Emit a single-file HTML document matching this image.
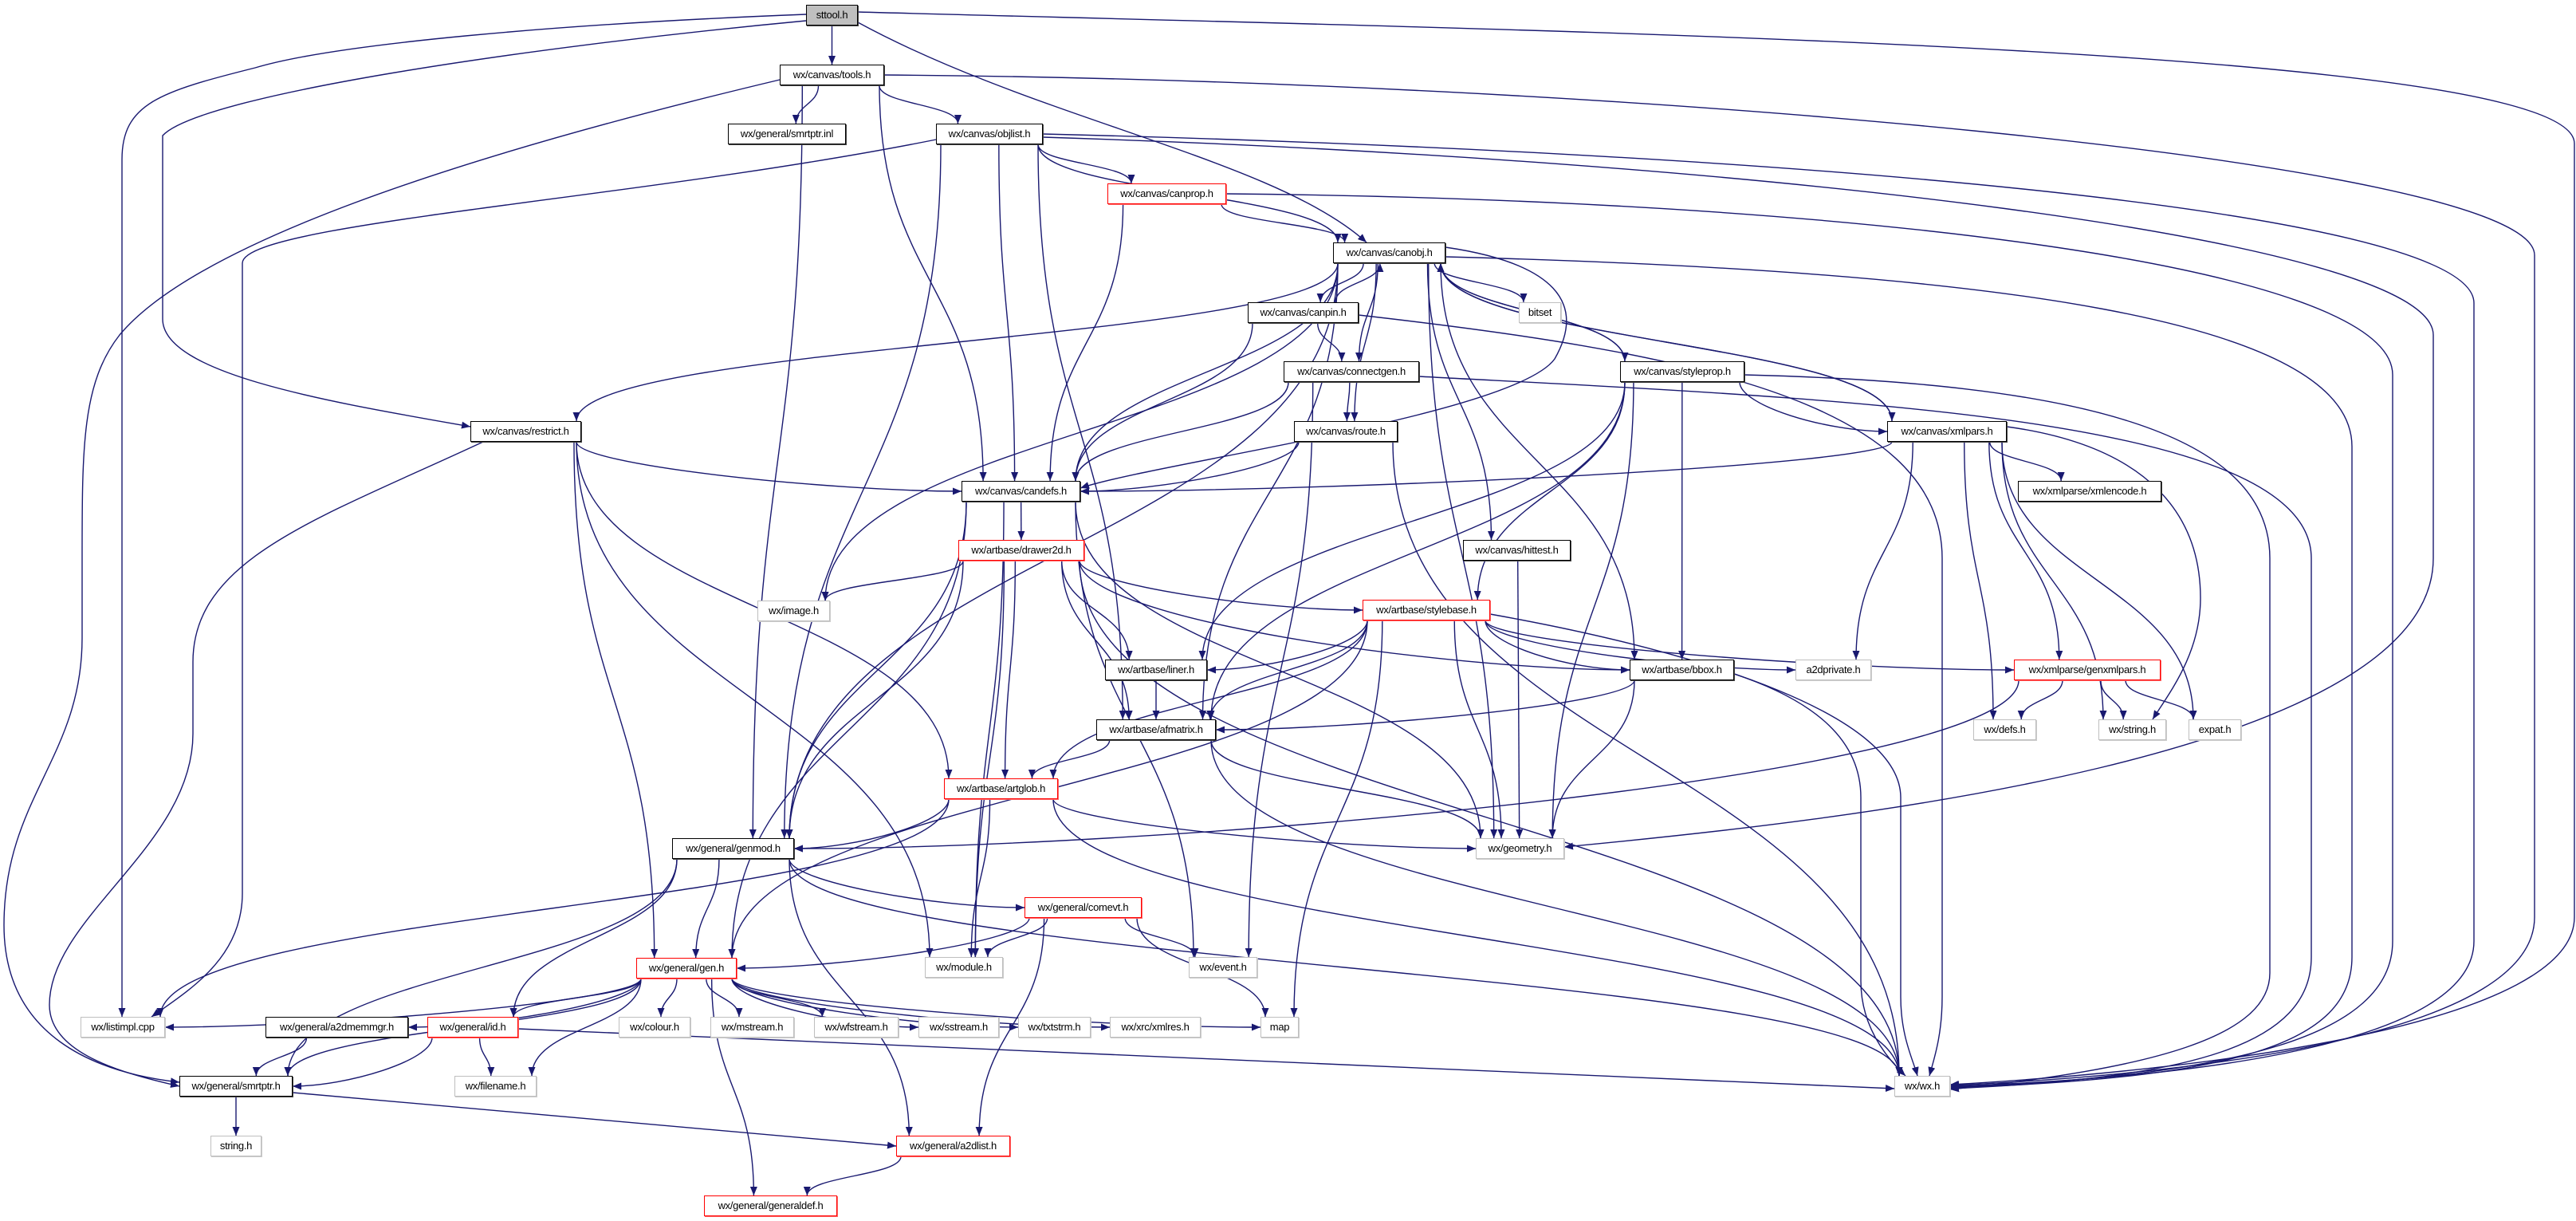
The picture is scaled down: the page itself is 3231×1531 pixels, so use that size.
<!DOCTYPE html>
<html><head><meta charset="utf-8">
<style>
html,body{margin:0;padding:0;background:#fff;}
#wrap{position:relative;width:3231px;height:1531px;overflow:hidden;background:#fff;}
svg{position:absolute;left:0;top:0;}
.n{position:absolute;height:26px;box-sizing:border-box;border:1px solid #000;box-shadow:1px 1px 0 #444;background:#fff;font-family:"Liberation Sans",Arial,sans-serif;font-size:13px;line-height:24px;text-align:center;white-space:nowrap;color:#000;z-index:2;letter-spacing:-0.3px;}
.g{border-color:#bfbfbf;box-shadow:1px 1px 0 #ccc;}
.r{border-color:#ff0000;box-shadow:1px 1px 0 #f66;}
.s{background:#bfbfbf;}
</style></head><body><div id="wrap">
<svg id="sv" width="3231" height="1531" xmlns="http://www.w3.org/2000/svg">
<defs><marker id="ah" markerWidth="11" markerHeight="9" refX="11" refY="4.5" orient="auto" markerUnits="userSpaceOnUse"><path d="M0,0 L11,4.5 L0,9 z" fill="#191970"/></marker></defs>
<g id="eg" fill="none" stroke="#191970" stroke-width="1.4"></g>
</svg>
<div class="n s" id="sttool" style="left:1011px;top:6px;width:65px">sttool.h</div>
<div class="n" id="tools" style="left:978px;top:81px;width:131px">wx/canvas/tools.h</div>
<div class="n" id="sinl" style="left:913px;top:155px;width:148px">wx/general/smrtptr.inl</div>
<div class="n" id="objlist" style="left:1174px;top:155px;width:134px">wx/canvas/objlist.h</div>
<div class="n r" id="canprop" style="left:1389px;top:230px;width:149px">wx/canvas/canprop.h</div>
<div class="n" id="canobj" style="left:1672px;top:304px;width:141px">wx/canvas/canobj.h</div>
<div class="n" id="canpin" style="left:1565px;top:379px;width:139px">wx/canvas/canpin.h</div>
<div class="n g" id="bitset" style="left:1905px;top:379px;width:53px">bitset</div>
<div class="n" id="connectgen" style="left:1610px;top:453px;width:170px">wx/canvas/connectgen.h</div>
<div class="n" id="styleprop" style="left:2032px;top:453px;width:156px">wx/canvas/styleprop.h</div>
<div class="n" id="restrict" style="left:590px;top:528px;width:139px">wx/canvas/restrict.h</div>
<div class="n" id="route" style="left:1623px;top:528px;width:130px">wx/canvas/route.h</div>
<div class="n" id="xmlpars" style="left:2367px;top:528px;width:150px">wx/canvas/xmlpars.h</div>
<div class="n" id="candefs" style="left:1206px;top:603px;width:149px">wx/canvas/candefs.h</div>
<div class="n" id="xmlencode" style="left:2531px;top:603px;width:180px">wx/xmlparse/xmlencode.h</div>
<div class="n r" id="drawer2d" style="left:1202px;top:677px;width:158px">wx/artbase/drawer2d.h</div>
<div class="n" id="hittest" style="left:1835px;top:677px;width:135px">wx/canvas/hittest.h</div>
<div class="n g" id="image" style="left:950px;top:753px;width:91px">wx/image.h</div>
<div class="n r" id="stylebase" style="left:1709px;top:752px;width:160px">wx/artbase/stylebase.h</div>
<div class="n" id="liner" style="left:1386px;top:827px;width:128px">wx/artbase/liner.h</div>
<div class="n" id="bbox" style="left:2044px;top:827px;width:131px">wx/artbase/bbox.h</div>
<div class="n g" id="a2dprivate" style="left:2252px;top:827px;width:95px">a2dprivate.h</div>
<div class="n r" id="genxmlpars" style="left:2526px;top:827px;width:184px">wx/xmlparse/genxmlpars.h</div>
<div class="n" id="afmatrix" style="left:1375px;top:902px;width:150px">wx/artbase/afmatrix.h</div>
<div class="n g" id="defs" style="left:2475px;top:902px;width:79px">wx/defs.h</div>
<div class="n g" id="wxstring" style="left:2632px;top:902px;width:85px">wx/string.h</div>
<div class="n g" id="expat" style="left:2745px;top:902px;width:66px">expat.h</div>
<div class="n r" id="artglob" style="left:1184px;top:976px;width:143px">wx/artbase/artglob.h</div>
<div class="n" id="genmod" style="left:843px;top:1051px;width:153px">wx/general/genmod.h</div>
<div class="n g" id="geometry" style="left:1851px;top:1051px;width:111px">wx/geometry.h</div>
<div class="n r" id="comevt" style="left:1285px;top:1125px;width:147px">wx/general/comevt.h</div>
<div class="n r" id="gen" style="left:798px;top:1201px;width:126px">wx/general/gen.h</div>
<div class="n g" id="module" style="left:1160px;top:1200px;width:98px">wx/module.h</div>
<div class="n g" id="event" style="left:1491px;top:1200px;width:86px">wx/event.h</div>
<div class="n g" id="listimpl" style="left:101px;top:1275px;width:106px">wx/listimpl.cpp</div>
<div class="n" id="a2dmemmgr" style="left:333px;top:1275px;width:179px">wx/general/a2dmemmgr.h</div>
<div class="n r" id="id" style="left:536px;top:1275px;width:114px">wx/general/id.h</div>
<div class="n g" id="colour" style="left:776px;top:1275px;width:90px">wx/colour.h</div>
<div class="n g" id="mstream" style="left:891px;top:1275px;width:105px">wx/mstream.h</div>
<div class="n g" id="wfstream" style="left:1021px;top:1275px;width:106px">wx/wfstream.h</div>
<div class="n g" id="sstream" style="left:1152px;top:1275px;width:101px">wx/sstream.h</div>
<div class="n g" id="txtstrm" style="left:1277px;top:1275px;width:91px">wx/txtstrm.h</div>
<div class="n g" id="xmlres" style="left:1392px;top:1275px;width:114px">wx/xrc/xmlres.h</div>
<div class="n g" id="map" style="left:1581px;top:1275px;width:48px">map</div>
<div class="n" id="smrtptr" style="left:225px;top:1349px;width:142px">wx/general/smrtptr.h</div>
<div class="n g" id="filename" style="left:570px;top:1349px;width:103px">wx/filename.h</div>
<div class="n g" id="wxwx" style="left:2376px;top:1349px;width:70px">wx/wx.h</div>
<div class="n g" id="stringh" style="left:264px;top:1424px;width:64px">string.h</div>
<div class="n r" id="a2dlist" style="left:1124px;top:1424px;width:143px">wx/general/a2dlist.h</div>
<div class="n r" id="generaldef" style="left:883px;top:1499px;width:167px">wx/general/generaldef.h</div>
</div>
<script>
(function(){
var E=[["sttool","tools"],["tools","sinl"],["tools","objlist"],["tools","candefs"],["tools","genmod"],
["objlist","canprop"],["objlist","canobj"],["objlist","candefs"],["objlist","afmatrix"],["objlist","genmod"],
["canprop","canobj"],["canprop","candefs"],
["canobj","canpin"],["canobj","connectgen"],["canobj","styleprop"],["canobj","xmlpars"],["canobj","bitset"],["canobj","candefs"],["canobj","restrict"],["canobj","route"],["canobj","hittest"],["canobj","image"],["canobj","genmod"],["canobj","geometry"],["canobj","afmatrix"],["canobj","bbox"],
["canpin","canobj"],["canpin","connectgen"],["canpin","candefs"],
["connectgen","candefs"],["connectgen","route"],["connectgen","event"],
["styleprop","canobj"],["styleprop","xmlpars"],["styleprop","liner"],["styleprop","afmatrix"],["styleprop","stylebase"],["styleprop","bbox"],["styleprop","geometry"],
["xmlpars","canobj"],["xmlpars","candefs"],["xmlpars","xmlencode"],["xmlpars","a2dprivate"],["xmlpars","genxmlpars"],["xmlpars","defs"],["xmlpars","wxstring"],["xmlpars","expat"],
["route","candefs"],["route","wxwx"],
["restrict","candefs"],["restrict","artglob"],["restrict","gen"],["restrict","module"],
["candefs","drawer2d"],["candefs","genmod"],["candefs","geometry"],["candefs","gen"],["candefs","module"],["candefs","event"],
["drawer2d","image"],["drawer2d","stylebase"],["drawer2d","liner"],["drawer2d","afmatrix"],["drawer2d","artglob"],["drawer2d","genmod"],["drawer2d","bbox"],["drawer2d","module"],["drawer2d","wxwx"],
["hittest","geometry"],
["stylebase","liner"],["stylebase","afmatrix"],["stylebase","bbox"],["stylebase","a2dprivate"],["stylebase","genxmlpars"],["stylebase","artglob"],["stylebase","geometry"],["stylebase","map"],["stylebase","gen"],
["liner","afmatrix"],["bbox","afmatrix"],["bbox","geometry"],
["afmatrix","artglob"],["afmatrix","geometry"],["afmatrix","wxwx"],
["artglob","genmod"],["artglob","listimpl"],["artglob","geometry"],["artglob","module"],["artglob","wxwx"],
["genxmlpars","defs"],["genxmlpars","wxstring"],["genxmlpars","expat"],["genxmlpars","genmod"],
["genmod","comevt"],["genmod","gen"],["genmod","id"],["genmod","smrtptr"],["genmod","wxwx"],["genmod","a2dlist"],
["comevt","gen"],["comevt","module"],["comevt","event"],["comevt","map"],["comevt","a2dlist"],
["gen","listimpl"],["gen","smrtptr"],["gen","a2dmemmgr"],["gen","id"],["gen","colour"],["gen","mstream"],["gen","wfstream"],["gen","sstream"],["gen","txtstrm"],["gen","xmlres"],["gen","map"],["gen","filename"],["gen","generaldef"],
["a2dmemmgr","smrtptr"],["id","smrtptr"],["id","filename"],["smrtptr","stringh"],["a2dlist","generaldef"]];
var C=["M1011,18 C700,30 420,55 320,85 C200,115 153,130 153,200 L153,1275",
"M1011,26 C650,60 250,120 204,170 L204,400 C204,470 420,505 590,535",
"M978,100 C600,190 250,300 150,420 C103,480 103,560 103,700 L103,800 C103,950 5,1000 5,1160 C5,1300 120,1345 225,1357",
"M1174,175 C800,250 304,280 304,330 L304,1120 C304,1200 240,1240 190,1275",
"M606,554 C400,650 242,700 242,830 L242,920 C242,1060 62,1150 62,1260 C62,1320 150,1345 225,1362",
"M1076,15 C2000,40 3229,60 3229,180 L3229,1150 C3229,1280 2800,1340 2446,1360",
"M1109,94 C2000,100 3179,200 3179,320 L3179,1150 C3179,1290 2800,1345 2446,1361",
"M1308,168 C2200,190 3103,260 3103,380 L3103,1180 C3103,1300 2800,1350 2446,1362",
"M1308,172 C2200,200 3052,300 3052,420 L3052,700 C3052,950 2300,1030 1962,1062",
"M1538,243 C2300,250 3001,330 3001,470 L3001,1180 C3001,1300 2800,1350 2446,1363",
"M1813,322 C2500,340 2950,400 2950,560 L2950,1200 C2950,1310 2800,1352 2446,1364",
"M1780,472 C2300,500 2899,520 2899,700 L2899,1200 C2899,1310 2750,1352 2446,1365",
"M2188,470 C2600,480 2847,540 2847,700 L2847,1220 C2847,1300 2700,1340 2446,1366",
"M2175,845 C2280,880 2334,930 2334,1000 L2334,1230 C2334,1290 2370,1330 2390,1349",
"M1869,770 C2150,820 2384,900 2384,1000 L2384,1250 C2384,1300 2400,1330 2405,1349",
"M1704,395 C2100,440 2436,500 2436,700 L2436,1250 C2436,1300 2425,1330 2420,1349",
"M650,1290 L2376,1365","M367,1370 L1124,1437","M1076,28 C1300,150 1600,200 1714,304",
"M1813,310 C1950,330 1990,380 1950,450 C1900,520 1450,580 1355,612",
"M2517,535 C2700,560 2760,650 2760,750 C2760,820 2720,870 2700,902"];
var g=document.getElementById("eg"),ns="http://www.w3.org/2000/svg";
function add(d){var p=document.createElementNS(ns,"path");p.setAttribute("d",d);p.setAttribute("marker-end","url(#ah)");g.appendChild(p);}
function bx(id){var e=document.getElementById(id);return {x:e.offsetLeft,y:e.offsetTop,w:e.offsetWidth,h:e.offsetHeight};}
function cl(v,a,b){return Math.max(a,Math.min(b,v));}
E.forEach(function(e){
 var A=bx(e[0]),B=bx(e[1]);var ac=A.x+A.w/2,bc=B.x+B.w/2,d;
 if(B.y>A.y+A.h+4){
  var sy=A.y+A.h,ey=B.y,dy=ey-sy;
  var sx=cl(ac+(bc-ac)*0.3,A.x+6,A.x+A.w-6);
  if(Math.abs(bc-ac)>6*dy){
   var ex=bc>ac?B.x:B.x+B.w,ey2=B.y+B.h/2;
   d="M"+sx+","+sy+" C"+sx+","+(sy+dy*0.6)+" "+(ex+(ac-ex)*0.3)+","+ey2+" "+ex+","+ey2;
  } else {
   var ex2=cl(bc+(ac-bc)*0.2,B.x+6,B.x+B.w-6);
   d="M"+sx+","+sy+" C"+sx+","+(sy+dy*0.5)+" "+ex2+","+(ey-dy*0.5)+" "+ex2+","+ey;
  }
 } else if(B.y+B.h<A.y-4){
  var sy=A.y,ey=B.y+B.h,dy=sy-ey;
  var sx=cl(ac+(bc-ac)*0.3+8,A.x+6,A.x+A.w-6),ex=cl(bc+(ac-bc)*0.2+10,B.x+6,B.x+B.w-6);
  d="M"+sx+","+sy+" C"+sx+","+(sy-dy*0.5)+" "+ex+","+(ey+dy*0.5)+" "+ex+","+ey;
 } else {
  var sx=bc>ac?A.x+A.w:A.x,ex=bc>ac?B.x:B.x+B.w,sy=A.y+A.h/2,ey=B.y+B.h/2;
  d="M"+sx+","+sy+" C"+((sx+ex)/2)+","+sy+" "+((sx+ex)/2)+","+ey+" "+ex+","+ey;
 }
 add(d);
});
C.forEach(add);
})();
</script>
</body></html>
